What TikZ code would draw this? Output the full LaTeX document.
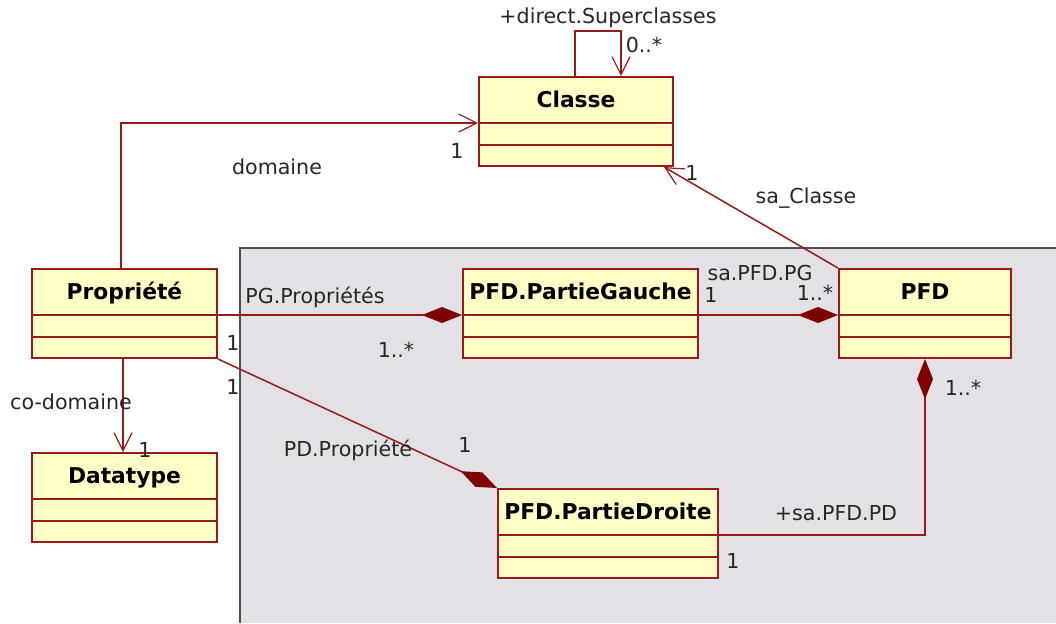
\documentclass[tikz,border=0pt]{standalone}
\usepackage{fontspec}
\setmainfont{DejaVu Sans}
\usepackage{tikz}
\usetikzlibrary{shapes.multipart}
\usetikzlibrary{calc,arrows.meta}
\definecolor{umlred}{RGB}{155,25,25}
\definecolor{umlyellow}{RGB}{255,255,198}
\definecolor{umldark}{RGB}{128,0,0}
\definecolor{pkggray}{RGB}{228,225,230}
\definecolor{pkgedge}{RGB}{80,80,80}

\newcommand{\hdr}[1]{\rule[-7.1pt]{0pt}{22pt}#1}

\begin{document}
\begin{tikzpicture}[x=0.5pt,y=-0.5pt,
  classe/.style={draw=umlred, fill=umlyellow, line width=1pt, anchor=north west, rectangle split, rectangle split parts=3, inner xsep=0pt, inner ysep=0pt, rectangle split empty part height=9.75pt, rectangle split empty part depth=0pt, font=\fontsize{10.9}{12}\selectfont\bfseries},
  assoc/.style={draw=umlred, line width=0.75pt, -{Straight Barb[length=9pt,width=9pt,line width=0.6pt]}},
  compo/.style={draw=umlred, line width=0.75pt, -{Diamond[length=20pt,width=8pt,color=umldark,fill=umldark]}},
  lbl/.style={inner sep=0pt, font=\fontsize{10.3}{12}\selectfont, text=black!85}
  ]
  \useasboundingbox (0,0) rectangle (1056,623);

  % package background
  \fill[pkggray] (240,248) rectangle (1056,623);
  \draw[pkgedge, line width=1pt] (240,623) -- (240,248) -- (1056,248);

  % classes
  \node[classe, minimum width=97pt] (Classe) at (478,76) {\hdr{Classe}};
  \node[classe, minimum width=92.5pt] (Propriete) at (31,268) {\hdr{Propriété}};
  \node[classe, minimum width=92.5pt] (Datatype) at (31,452) {\hdr{Datatype}};
  \node[classe, minimum width=117.5pt] (PartieGauche) at (462,268) {\hdr{PFD.PartieGauche}};
  \node[classe, minimum width=86pt] (PFD) at (838,268) {\hdr{PFD}};
  \node[classe, minimum width=110pt] (PartieDroite) at (497,488) {\hdr{PFD.PartieDroite}};

  % associations
  \draw[assoc] ($(Classe.north west)+(97,0)$) -- ++(0,-45) -| ($(Classe.north west)+(143,0)$);
  \draw[assoc] ($(Propriete.north west)+(90,0)$) |- (Classe.text split west);
  \draw[assoc] ($(Propriete.south west)+(92,0)$) -- ($(Datatype.north west)+(92,0)$);
  \draw[assoc] (PFD.north west) -- ($(Classe.south east)+(-10,0)$);

  % compositions
  \draw[compo] (Propriete.text split east) -- (PartieGauche.text split west);
  \draw[compo] (PartieGauche.text split east) -- (PFD.text split west);
  \draw[compo] (Propriete.south east) -- (PartieDroite.north west);
  \draw[compo] (PartieDroite.text split east) -| ($(PFD.south west)+(87,0)$);

  % role names and multiplicities
  \node[lbl] (lSuper) at (608,18) {+direct.Superclasses};
  \node[lbl] (mSuper) at (644,45) {0..*};
  \node[lbl] (lDomaine) at (277,167) {domaine};
  \node[lbl] (mDomaine) at (457,151) {1};
  \node[lbl] (lSaClasse) at (806,198) {sa\_Classe};
  \node[lbl] (mSaClasse) at (692,173) {1};
  \node[lbl] (lPG) at (315,297) {PG.Propriétés};
  \node[lbl] (mPGa) at (233,343) {1};
  \node[lbl] (mPGb) at (396,350) {1..*};
  \node[lbl] (mPDa) at (233,387) {1};
  \node[lbl] (lPD) at (348,450) {PD.Propriété};
  \node[lbl] (mPDb) at (465,445) {1};
  \node[lbl] (lCoDom) at (71,402) {co-domaine};
  \node[lbl] (mCoDom) at (145,450) {1};
  \node[lbl] (lSaPG) at (760,273) {sa.PFD.PG};
  \node[lbl] (mSaPGa) at (711,295) {1};
  \node[lbl] (mSaPGb) at (815,293) {1..*};
  \node[lbl] (mSaPDa) at (963,388) {1..*};
  \node[lbl] (lSaPD) at (836,513) {+sa.PFD.PD};
  \node[lbl] (mSaPDb) at (733,561) {1};

\end{tikzpicture}
\end{document}
